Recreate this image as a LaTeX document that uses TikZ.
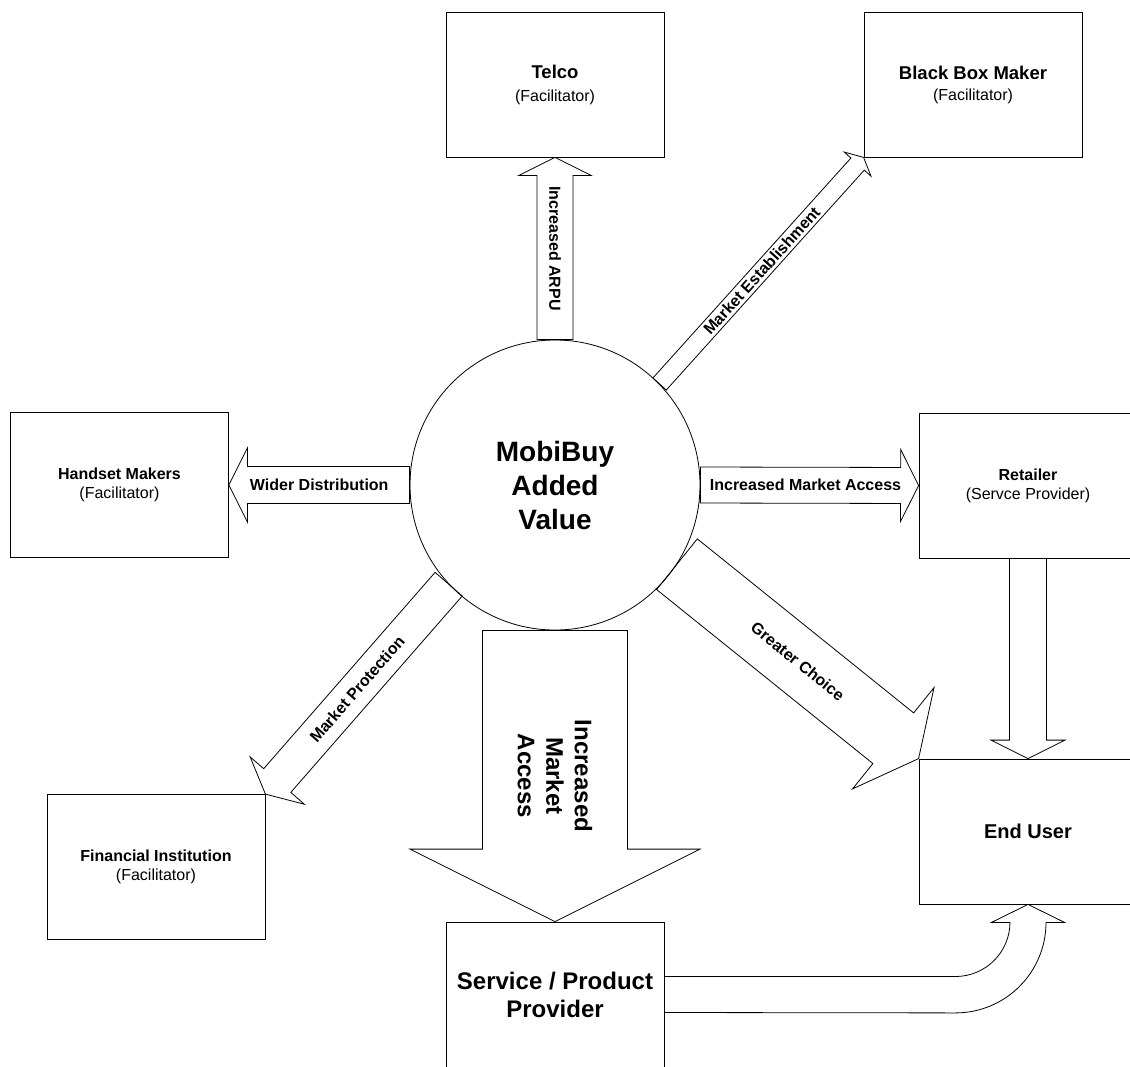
\documentclass[tikz,border=0pt]{standalone}
\usepackage{fontspec}
\setmainfont{Liberation Sans}
\usetikzlibrary{calc}

\tikzset{
  box/.style={draw, line width=0.8pt, minimum width=218pt, minimum height=145pt, inner sep=0pt, align=center, font=\fontsize{16}{19}\selectfont},
  blk/.style={draw, line width=0.8pt},
  lbl/.style={font=\bfseries\fontsize{16}{19}\selectfont},
}

% block arrow: tail, tip, shaft width, label style, label
\newcommand{\valuearrow}[5]{%
  \coordinate (hb) at ($(#2)!#3/2!(#1)$);
  \draw[blk] ($(#1)!#3/2!90:(#2)$) -- ($(hb)!#3/2!90:(#2)$)
    -- ($(hb)!#3!90:(#2)$) -- (#2) -- ($(hb)!#3!-90:(#2)$)
    -- ($(hb)!#3/2!-90:(#2)$) -- ($(#1)!#3/2!-90:(#2)$) -- cycle;
  \node[#4] at ($(#1)!0.5!(#2)$) {#5};
}

\begin{document}
\begin{tikzpicture}[x=1pt,y=-1pt]
\path[use as bounding box, clip] (0,0) rectangle (1130,1066);
% the players
\node[box, font=\fontsize{16}{23}\selectfont] (telco) at (555,84.5) {\textbf{\fontsize{18.5}{23}\selectfont Telco}\\(Facilitator)};
\node[box, font=\fontsize{16}{21}\selectfont] (bbm) at (973,84.5) {\textbf{\fontsize{18.5}{21}\selectfont Black Box Maker}\\(Facilitator)};
\node[box] (handset) at (119.5,485) {\textbf{Handset Makers}\\(Facilitator)};
\node[box] (retailer) at (1028,485.5) {\textbf{Retailer}\\(Servce Provider)};
\node[box] (fin) at (156,867) {\textbf{Financial Institution}\\(Facilitator)};
\node[box, font=\bfseries\fontsize{20}{24}\selectfont] (eu) at (1028,831.5) {End User};
\node[box, font=\bfseries\fontsize{24}{28}\selectfont] (spp) at (555,994.5) {Service / Product\\Provider};
\node[draw, circle, line width=0.8pt, minimum size=290pt, inner sep=0pt, align=center, font=\bfseries\fontsize{28}{34}\selectfont] (mv) at (555,485) {MobiBuy\\Added\\Value};
% value flows
\valuearrow{mv.north}{telco.south}{36pt}{lbl, rotate=-90}{Increased ARPU}
\valuearrow{mv.44}{bbm.south west}{18pt}{lbl, rotate=48}{Market Establishment}
\valuearrow{mv.west}{handset.east}{37pt}{lbl}{Wider Distribution}
\valuearrow{mv.east}{retailer.west}{36pt}{lbl, xshift=-4pt}{Increased Market Access}
\valuearrow{mv.-137}{fin.north east}{36pt}{lbl, rotate=49}{Market Protection}
\valuearrow{mv.-33}{eu.north west}{65pt}{lbl, rotate=-39}{Greater Choice}
\valuearrow{mv.south}{spp.north}{145pt}{lbl, font=\bfseries\fontsize{24}{28.5}\selectfont, align=center, rotate=-90}{Increased\\Market\\Access}
\valuearrow{retailer.south}{eu.north}{37pt}{}{}
% bent arrow up to the end user
\coordinate (bend) at (955.5,922);
\draw[blk] ($(spp.east)+(0,-18)$) -- ($(bend)+(0,54.5)$) arc[start angle=90, end angle=0, radius=54.5]
  -- ($(eu.south)+(-18,18)$) -- ($(eu.south)+(-36.5,18)$) -- (eu.south)
  -- ($(eu.south)+(36.5,18)$) -- ($(eu.south)+(18,18)$) arc[start angle=0, end angle=90, radius=90.5]
  -- ($(spp.east)+(0,18)$);
\end{tikzpicture}
\end{document}
